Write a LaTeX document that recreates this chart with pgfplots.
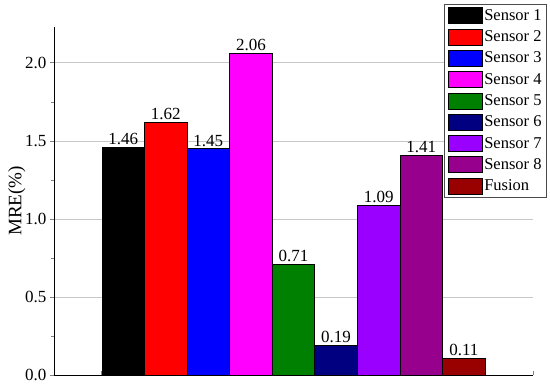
\documentclass[border=0pt]{standalone}
\usepackage{fontspec}
\setmainfont{Liberation Serif}
\usepackage{pgfplots}
\pgfplotsset{compat=1.18}
\definecolor{cA}{RGB}{0,0,0}
\definecolor{cB}{RGB}{255,0,0}
\definecolor{cC}{RGB}{0,0,255}
\definecolor{cD}{RGB}{255,0,255}
\definecolor{cE}{RGB}{0,128,0}
\definecolor{cF}{RGB}{0,0,128}
\definecolor{cG}{RGB}{153,0,255}
\definecolor{cH}{RGB}{150,0,140}
\definecolor{cI}{RGB}{153,0,0}
\begin{document}
\begin{tikzpicture}
\useasboundingbox (-54pt,-9pt) rectangle (496pt,375pt);
\begin{axis}[
  at={(0pt,0pt)}, anchor=south west,
  scale only axis, width=479pt, height=348pt,
  xmin=-0.625, xmax=10.625, ymin=0, ymax=2.23,
  axis x line*=bottom, axis y line*=left,
  axis line style={line width=0.8pt},
  ybar, bar width=1,
  xtick={-0.625,0.5,1.625,2.75,3.875,5,6.125,7.25,8.375,9.5,10.625},
  xticklabels={},
  tick align=outside, major tick length=4pt, minor tick length=3pt,
  x tick style={yshift=4pt, line width=0.8pt},
  y tick style={line width=0.8pt},
  ytick={0,0.5,1,1.5,2},
  minor y tick num=1,
  yticklabel style={/pgf/number format/fixed, /pgf/number format/fixed zerofill, /pgf/number format/precision=1, font=\fontsize{17}{17}\selectfont},
  /pgf/number format/assume math mode=true,
  ymajorgrids, grid style={line width=0.8pt, black!22},
  ylabel={MRE(\%)}, ylabel style={font=\fontsize{19}{19}\selectfont},
  ylabel shift=-7pt,
  nodes near coords,
  nodes near coords style={/pgf/number format/fixed, /pgf/number format/fixed zerofill, /pgf/number format/precision=2, font=\fontsize{17}{17}\selectfont, text=black, inner sep=2pt},
  every axis plot/.append style={draw=black, line width=0.6pt, bar shift=0pt},
  legend image code/.code={\draw[#1, draw=black, line width=0.6pt] (0pt,-8pt) rectangle (34pt,8pt);},
  legend style={at={(1.029,1.066)}, anchor=north east, draw=black!70, line width=0.6pt, font=\fontsize{16.5}{16.5}\selectfont, row sep=4.7pt, inner xsep=3pt, inner ysep=3pt},
  legend cell align=left,
]
\addplot[fill=cA, bar shift=0pt] coordinates {(1,1.46)};
\addplot[fill=cB, bar shift=0pt] coordinates {(2,1.62)};
\addplot[fill=cC, bar shift=0pt] coordinates {(3,1.45)};
\addplot[fill=cD, bar shift=0pt] coordinates {(4,2.06)};
\addplot[fill=cE, bar shift=0pt] coordinates {(5,0.71)};
\addplot[fill=cF, bar shift=0pt] coordinates {(6,0.19)};
\addplot[fill=cG, bar shift=0pt] coordinates {(7,1.09)};
\addplot[fill=cH, bar shift=0pt] coordinates {(8,1.41)};
\addplot[fill=cI, bar shift=0pt] coordinates {(9,0.11)};
\legend{Sensor 1,Sensor 2,Sensor 3,Sensor 4,Sensor 5,Sensor 6,Sensor 7,Sensor 8,Fusion}
\end{axis}
\end{tikzpicture}
\end{document}
